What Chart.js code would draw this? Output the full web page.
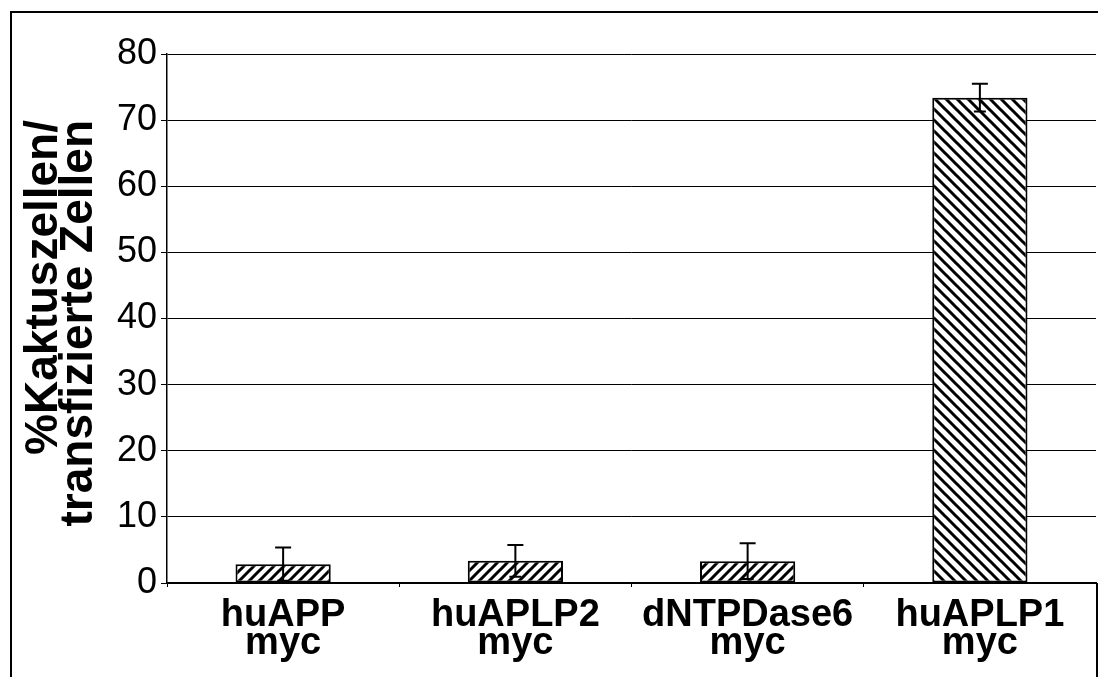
<!DOCTYPE html>
<html>
<head>
<meta charset="utf-8">
<script src="https://cdn.jsdelivr.net/npm/chart.js@4.4.0/dist/chart.umd.min.js"></script>
<style>
  body { margin: 0; background: #fff; }
  canvas { display: block; }
</style>
</head>
<body>
<canvas id="cactusChart" width="1098" height="677"></canvas>
<script>
// values
const constructs = [["huAPP", "myc"], ["huAPLP2", "myc"], ["dNTPDase6", "myc"], ["huAPLP1", "myc"]];
const cactusPercent = [2.85, 3.35, 3.3, 73.4];
const errorPercent = [2.5, 2.4, 2.7, 2.1];
const yTicks = [0, 10, 20, 30, 40, 50, 60, 70, 80];
const yTitle = ["%Kaktuszellen/", "transfizierte Zellen"];

const FONT = '"Liberation Sans", Arial, Helvetica, sans-serif';

// diagonal hatch tile, "/" or "\"
function hatch(size, dir) {
    const c = document.createElement("canvas");
    c.width = size;
    c.height = size;
    const g = c.getContext("2d");
    g.fillStyle = "#fff";
    g.fillRect(0, 0, size, size);
    g.strokeStyle = "#000";
    g.lineWidth = 3;
    g.beginPath();
    for (let k = -1; k <= 2; k++) {
        if (dir === "/") {
            g.moveTo(-2, k * size + 2);
            g.lineTo(size + 2, k * size - size - 2);
        } else {
            g.moveTo(-2, k * size - 2);
            g.lineTo(size + 2, k * size + size + 2);
        }
    }
    g.stroke();
    return g.createPattern(c, "repeat");
}

const fwd = hatch(10, "/");
const back = hatch(11, "\\");

const errorBars = {
    id: "errorBars",
    afterDatasetsDraw(chart) {
        const ctx = chart.ctx;
        const y = chart.scales.y;
        const meta = chart.getDatasetMeta(0);
        ctx.save();
        ctx.strokeStyle = "#000";
        ctx.lineWidth = 2;
        meta.data.forEach((bar, i) => {
            const v = cactusPercent[i];
            const e = errorPercent[i];
            const top = y.getPixelForValue(v + e);
            const bot = y.getPixelForValue(Math.max(0, v - e));
            ctx.beginPath();
            ctx.moveTo(bar.x, top);
            ctx.lineTo(bar.x, bot);
            ctx.moveTo(bar.x - 8, top);
            ctx.lineTo(bar.x + 8, top);
            ctx.moveTo(bar.x - 6, bot);
            ctx.lineTo(bar.x + 6, bot);
            ctx.stroke();
        });
        ctx.restore();
    }
};

const frameAndTitle = {
    id: "frameAndTitle",
    afterDraw(chart) {
        const ctx = chart.ctx;
        const { width, height } = chart;
        ctx.save();
        ctx.strokeStyle = "#000";
        ctx.lineWidth = 2;
        ctx.beginPath();
        ctx.moveTo(11, height);
        ctx.lineTo(11, 12);
        ctx.lineTo(width, 12);
        ctx.moveTo(width - 1, chart.chartArea.bottom);
        ctx.lineTo(width - 1, height);
        ctx.stroke();

        ctx.fillStyle = "#000";
        ctx.font = "bold 46px " + FONT;
        ctx.textAlign = "right";
        ctx.textBaseline = "alphabetic";
        [57, 92].forEach((x, i) => {
            ctx.save();
            ctx.translate(x, 120);
            ctx.rotate(-Math.PI / 2);
            ctx.fillText(yTitle[i], 0, 0);
            ctx.restore();
        });
        ctx.restore();
    }
};

new Chart(document.getElementById("cactusChart"), {
    type: "bar",
    data: {
        labels: constructs,
        datasets: [{
            data: cactusPercent,
            backgroundColor: [fwd, fwd, fwd, back],
            borderColor: "#000",
            borderWidth: 2,
            borderSkipped: false,
            barPercentage: 0.41,
            categoryPercentage: 1.0
        }]
    },
    options: {
        responsive: false,
        animation: false,
        devicePixelRatio: 1,
        layout: { padding: { top: 54, right: 2, left: 1, bottom: 0 } },
        plugins: {
            legend: { display: false },
            tooltip: { enabled: false }
        },
        scales: {
            x: {
                grid: { drawOnChartArea: false, drawTicks: true, tickLength: 4, color: "#000", offset: true },
                border: { color: "#000", width: 1.5 },
                ticks: {
                    color: "#000",
                    padding: 15,
                    maxRotation: 0,
                    autoSkip: false,
                    font: { family: FONT, size: 38, weight: "bold", lineHeight: 0.72 }
                },
                afterFit(scale) { scale.height = 94; }
            },
            y: {
                min: 0,
                max: 80,
                afterBuildTicks(scale) {
                    scale.ticks = yTicks.map(v => ({ value: v }));
                },
                grid: { color: "#000", lineWidth: 1, tickLength: 6 },
                border: { color: "#000", width: 1.5 },
                ticks: {
                    color: "#000",
                    padding: 4,
                    font: { family: FONT, size: 36 }
                },
                afterFit(scale) { scale.width = 166; }
            }
        }
    },
    plugins: [errorBars, frameAndTitle]
});
</script>
</body>
</html>
